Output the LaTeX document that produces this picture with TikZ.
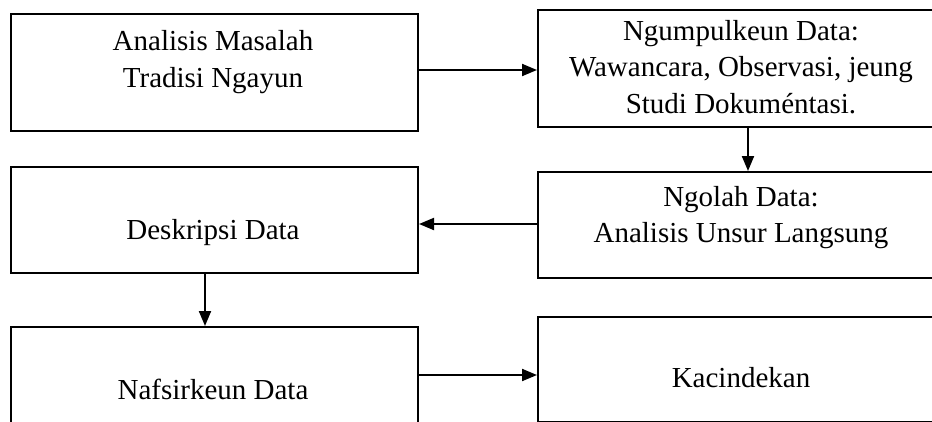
\documentclass[tikz,border=0pt]{standalone}
\usepackage{fontspec}
\setmainfont{Liberation Serif}
\usetikzlibrary{arrows.meta}
\begin{document}
\begin{tikzpicture}[x=1pt,y=-1pt,
  box/.style={draw, line width=2pt, anchor=north west, inner sep=0pt},
  txt/.style={font=\fontsize{29}{36.5}\selectfont, align=center, inner sep=0pt},
  arr/.style={line width=2pt, -{Triangle[length=15pt,width=12pt]}}]
\useasboundingbox (0,0) rectangle (932,421);
\clip (0,0) rectangle (932,421);
% boxes
\node[box, minimum width=407pt, minimum height=117pt] (A) at (10,13) {};
\node[box, minimum width=420pt, minimum height=117pt] (B) at (537,9) {};
\node[box, minimum width=420pt, minimum height=106pt] (C) at (537,171) {};
\node[box, minimum width=407pt, minimum height=106pt] (D) at (10,166) {};
\node[box, minimum width=407pt, minimum height=130pt] (N) at (10,326) {};
\node[box, minimum width=420pt, minimum height=105pt] (K) at (537,316) {};
% texts
\node[txt] (tA) at (213,62) {Analisis Masalah\\Tradisi Ngayun};
\node[txt] (tB) at (741,67) {Ngumpulkeun Data:\\Wawancara, Observasi, jeung\\Studi Dokuméntasi.};
\node[txt] (tC) at (741,217.5) {Ngolah Data:\\Analisis Unsur Langsung};
\node[txt] (tD) at (213,233) {Deskripsi Data};
\node[txt] (tN) at (213,389) {Nafsirkeun Data};
\node[txt] (tK) at (741,378) {Kacindekan};
% connectors
\draw[arr] ([yshift=2.5pt]A.east) -- ([yshift=2.5pt]A.east -| B.west);
\draw[arr] ([xshift=211pt]B.south west) -- ([xshift=211pt]C.north west);
\draw[arr] ([yshift=1pt]C.west) -- ([yshift=1pt]C.west -| D.east);
\draw[arr] ([xshift=195pt]D.south west) -- ([xshift=195pt]N.north west);
\draw[arr] ([yshift=-5.5pt]K.west -| N.east) -- ([yshift=-5.5pt]K.west);
\end{tikzpicture}
\end{document}
